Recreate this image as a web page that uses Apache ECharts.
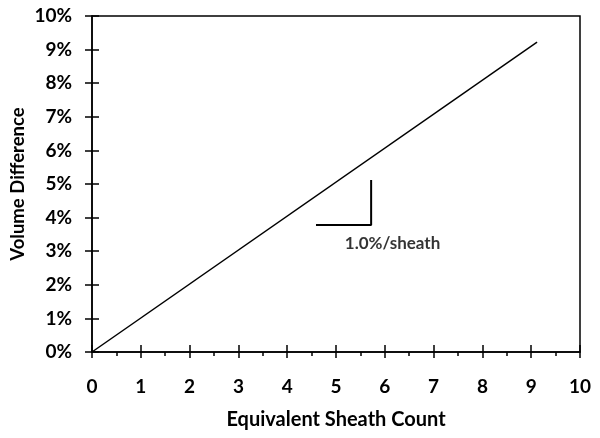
<!DOCTYPE html>
<html>
<head>
<meta charset="utf-8">
<script src="https://cdn.jsdelivr.net/npm/echarts@6/dist/echarts.min.js"></script>
<style>
  html, body { margin: 0; padding: 0; background: #fff; }
  #container { width: 600px; height: 438px; }
</style>
</head>
<body>
<div id="container"></div>
<script>
// sheath count vs volume difference (fraction)
var sheathCount = [0, 9.12];
var volumeDiff = [0, 0.0922];
// slope marker
var slopeX = [4.59, 5.72, 5.72];
var slopeY = [0.0378, 0.0378, 0.0512];
var slopeLabel = '1.0%/sheath';
var slopeLabelAt = [5.18, 0.0324];

var xTitle = 'Equivalent Sheath Count';
var yTitle = 'Volume Difference';

function graficoVolumen() {
    var dom = document.getElementById('container');
    var myChart = echarts.init(dom);
    var font = 'Lato, "Open Sans", sans-serif';

    var lineData = sheathCount.map(function (x, i) { return [x, volumeDiff[i]]; });
    var slopeData = slopeX.map(function (x, i) { return [x, slopeY[i]]; });

    var option = {
        animation: false,
        grid: {
            left: 92, right: 20, top: 16, bottom: 86,
            outerBoundsMode: 'none',
            show: true, borderColor: '#000', borderWidth: 1.5
        },
        xAxis: [{
            type: 'value', min: 0, max: 10, interval: 1,
            name: xTitle, nameLocation: 'middle', nameGap: 58,
            nameMoveOverlap: false,
            nameTextStyle: { fontFamily: font, fontWeight: 'bold', fontSize: 20, color: '#000' },
            axisLine: { lineStyle: { color: '#000', width: 1.5 } },
            axisTick: { show: true, inside: false, length: 6, lineStyle: { color: '#000', width: 1.5 } },
            minorTick: { show: true, splitNumber: 2, length: 4, lineStyle: { color: '#000', width: 1.5 } },
            axisLabel: { margin: 25, fontFamily: font, fontWeight: 'bold', fontSize: 19, color: '#000' },
            splitLine: { show: false }
        }, {
            type: 'value', min: 0, max: 10, interval: 1, position: 'bottom',
            axisLine: { show: false },
            axisTick: { show: true, inside: true, length: 7, lineStyle: { color: '#000', width: 1.5 } },
            axisLabel: { show: false },
            splitLine: { show: false }
        }],
        yAxis: [{
            type: 'value', min: 0, max: 0.1, interval: 0.01,
            name: yTitle, nameLocation: 'middle', nameGap: 64, nameRotate: 90,
            nameMoveOverlap: false,
            nameTextStyle: {
                fontFamily: font, fontWeight: 'bold', fontSize: 18.5, color: '#000'
            },
            axisLine: { show: true, lineStyle: { color: '#000', width: 1.5 } },
            axisTick: { show: true, inside: false, length: 7, lineStyle: { color: '#000', width: 1.5 } },
            axisLabel: {
                margin: 20, fontFamily: font, fontWeight: 'bold', fontSize: 19, color: '#000',
                formatter: function (v) { return Math.round(v * 100) + '%'; }
            },
            splitLine: { show: false }
        }, {
            type: 'value', min: 0, max: 0.1, interval: 0.01, position: 'left',
            axisLine: { show: false },
            axisTick: { show: true, inside: true, length: 7, lineStyle: { color: '#000', width: 1.5 } },
            axisLabel: { show: false },
            splitLine: { show: false }
        }],
        series: [{
            type: 'line',
            data: lineData,
            symbol: 'none',
            lineStyle: { color: '#000', width: 1.5 }
        }, {
            type: 'line',
            data: slopeData,
            symbol: 'none',
            lineStyle: { color: '#000', width: 2 }
        }, {
            type: 'scatter',
            data: [slopeLabelAt],
            symbolSize: 0,
            label: {
                show: true, position: 'right', distance: 0,
                formatter: slopeLabel,
                fontFamily: font, fontWeight: 'bold', fontSize: 17, color: '#000'
            }
        }]
    };
    myChart.setOption(option);
}
graficoVolumen();
</script>
</body>
</html>
